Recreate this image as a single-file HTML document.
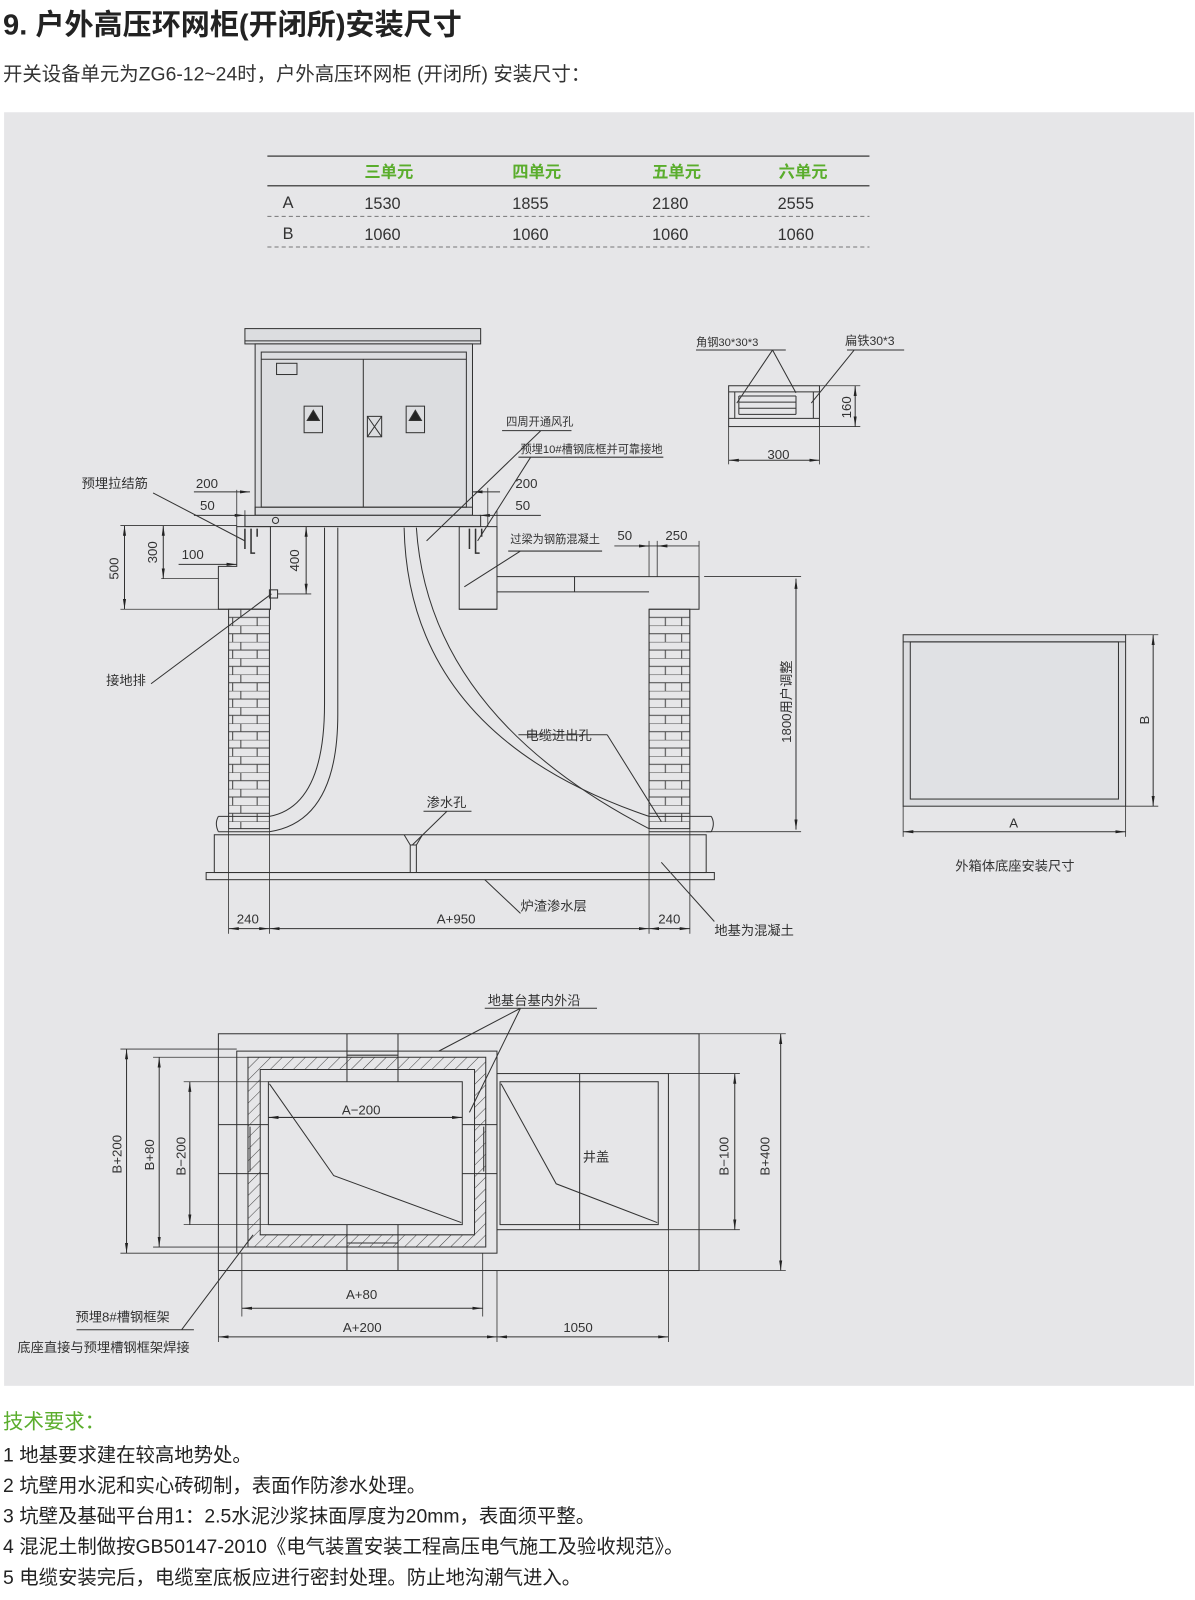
<!DOCTYPE html>
<html><head><meta charset="utf-8"><style>
html,body{margin:0;padding:0;background:#fff;}
svg{display:block;}
text{font-family:"Liberation Sans","Noto Sans CJK SC",sans-serif;fill:#333;}
text.g{fill:#5aad2c;}
text.d{fill:#222;}
</style></head><body>
<svg width="1195" height="1600" viewBox="0 0 1195 1600" xmlns="http://www.w3.org/2000/svg">
<defs>
<pattern id="brick" x="224" y="597" width="40" height="16" patternUnits="userSpaceOnUse">
<rect width="40" height="16" fill="#e6e6e8"/>
<path d="M0 0H40M0 8H40M12 0V8M28 8V16M4 8V16" stroke="#444" stroke-width="1" fill="none"/>
</pattern>
<pattern id="hatch" width="8" height="8" patternUnits="userSpaceOnUse" patternTransform="rotate(45)">
<rect width="8" height="8" fill="#e6e6e8"/><line x1="0" y1="0" x2="0" y2="8" stroke="#444" stroke-width="1"/>
</pattern>
<marker id="ar" markerWidth="10" markerHeight="6" refX="10" refY="3" orient="auto-start-reverse" markerUnits="userSpaceOnUse"><path d="M0 1.5L10 3L0 4.5Z" fill="#222"/></marker>
</defs>
<g transform="scale(1.0205)">
<text x="3" y="34" font-size="28.5" font-weight="bold" class="d">9. 户外高压环网柜(开闭所)安装尺寸</text>
<text x="3" y="79" font-size="19">开关设备单元为ZG6-12~24时，户外高压环网柜 (开闭所) 安装尺寸：</text>

<rect x="4" y="110" width="1166" height="1248" fill="#e6e6e8"/>

<g font-size="16">
<line x1="262" y1="153" x2="852" y2="153" stroke="#555" stroke-width="1.5"/>
<line x1="262" y1="182" x2="852" y2="182" stroke="#555" stroke-width="1.5"/>
<line x1="262" y1="212" x2="852" y2="212" stroke="#777" stroke-dasharray="4,3"/>
<line x1="262" y1="242" x2="852" y2="242" stroke="#777" stroke-dasharray="4,3"/>
<g font-weight="bold"><text x="357" y="174" class="g">三单元</text><text x="502" y="174" class="g">四单元</text><text x="639" y="174" class="g">五单元</text><text x="763" y="174" class="g">六单元</text></g>
<text x="277" y="204">A</text><text x="357" y="205">1530</text><text x="502" y="205">1855</text><text x="639" y="205">2180</text><text x="762" y="205">2555</text>
<text x="277" y="234">B</text><text x="357" y="235">1060</text><text x="502" y="235">1060</text><text x="639" y="235">1060</text><text x="762" y="235">1060</text>
</g>

<g stroke="#333" stroke-width="1" fill="none">
<rect x="240" y="322" width="231" height="15" fill="#dcdde0"/>
<line x1="240" y1="334" x2="471" y2="334"/>
<rect x="250" y="337" width="213" height="168" fill="#dcdde0"/>
<rect x="256" y="345" width="201" height="152" fill="#dcdde0"/>
<line x1="256" y1="352" x2="457" y2="352"/>
<line x1="356" y1="352" x2="356" y2="497"/>
<rect x="271" y="356" width="20" height="11"/>
<rect x="298" y="398" width="18" height="26"/><path d="M307 402l-6 10h12z" fill="#222"/>
<rect x="398" y="398" width="18" height="26"/><path d="M407 402l-6 10h12z" fill="#222"/>
<rect x="360" y="408" width="14" height="20"/><path d="M360 408l14 20M374 408l-14 20"/>
<rect x="250" y="497" width="213" height="8"/>
<rect x="240" y="505" width="231" height="11" fill="#dcdde0"/>
<circle cx="270" cy="510" r="3"/>

<path d="M232 516H265V597H214V555H232Z"/>
<path d="M450 516H487V597H450Z"/>
<path d="M487 565H685V597H636M487 580H636M563 565V580"/>
<line x1="214" y1="597" x2="265" y2="597"/>
<line x1="450" y1="597" x2="487" y2="597"/>
<path d="M240 518v20M246 518v24h4M252 518v8" stroke-width="1.5"/>
<path d="M460 518v20M466 518v24h4M472 518v8" stroke-width="1.5"/>
<rect x="224" y="597" width="40" height="215" fill="url(#brick)"/>
<rect x="636" y="597" width="40" height="215" fill="url(#brick)"/>
<rect x="264" y="578" width="8" height="8"/>
<path d="M214 800H264M214 815H264M214 800q-4 7 0 15"/>
<path d="M636 800H697M636 815H697M697 800q4 7 0 15"/>
<path d="M318 517V690Q318 790 264 800"/>
<path d="M331 517V700Q331 805 264 815"/>
<path d="M396 517Q400 720 636 800"/>
<path d="M408 517Q420 700 636 812"/>
<rect x="210" y="818" width="482" height="37"/>
<rect x="202" y="855" width="498" height="7"/>
<path d="M396 818l6 10h6l6-10M402 828V855M408 828V855"/>
<line x1="224" y1="812" x2="224" y2="915" stroke-width=".8"/>
<line x1="264" y1="812" x2="264" y2="915" stroke-width=".8"/>
<line x1="636" y1="812" x2="636" y2="915" stroke-width=".8"/>
<line x1="676" y1="812" x2="676" y2="915" stroke-width=".8"/>
<line x1="224" y1="910" x2="264" y2="910" marker-start="url(#ar)" marker-end="url(#ar)"/>
<line x1="264" y1="910" x2="636" y2="910" marker-start="url(#ar)" marker-end="url(#ar)"/>
<line x1="636" y1="910" x2="676" y2="910" marker-start="url(#ar)" marker-end="url(#ar)"/>

<line x1="118" y1="515" x2="232" y2="515" stroke-width=".8"/>
<line x1="118" y1="597" x2="214" y2="597" stroke-width=".8"/>
<line x1="122" y1="515" x2="122" y2="597" marker-start="url(#ar)" marker-end="url(#ar)"/>
<line x1="158" y1="567" x2="214" y2="567" stroke-width=".8"/>
<line x1="160" y1="515" x2="160" y2="567" marker-start="url(#ar)" marker-end="url(#ar)"/>
<line x1="175" y1="553" x2="232" y2="553" marker-end="url(#ar)"/>
<line x1="300" y1="516" x2="300" y2="582" marker-start="url(#ar)" marker-end="url(#ar)"/>
<line x1="272" y1="582" x2="305" y2="582" stroke-width=".8"/>
<line x1="190" y1="482" x2="245" y2="482" marker-end="url(#ar)"/>
<line x1="190" y1="505" x2="240" y2="505" marker-end="url(#ar)"/>
<line x1="232" y1="480" x2="232" y2="516" stroke-width=".8"/>
<line x1="240" y1="500" x2="240" y2="516" stroke-width=".8"/>
<line x1="490" y1="482" x2="463" y2="482" marker-end="url(#ar)"/>
<line x1="530" y1="505" x2="470" y2="505" marker-end="url(#ar)"/>
<line x1="478" y1="478" x2="478" y2="516" stroke-width=".8"/>
<line x1="487" y1="500" x2="487" y2="565" stroke-width=".8"/>
<line x1="602" y1="535" x2="685" y2="535" stroke-width=".8"/>
<line x1="630" y1="535" x2="636" y2="535" marker-end="url(#ar)"/>
<line x1="650" y1="535" x2="644" y2="535" marker-end="url(#ar)"/>
<line x1="636" y1="530" x2="636" y2="565" stroke-width=".8"/>
<line x1="644" y1="530" x2="644" y2="565" stroke-width=".8"/>
<line x1="685" y1="530" x2="685" y2="565" stroke-width=".8"/>
<line x1="690" y1="565" x2="785" y2="565" stroke-width=".8"/>
<line x1="692" y1="815" x2="785" y2="815" stroke-width=".8"/>
<line x1="780" y1="567" x2="780" y2="813" marker-start="url(#ar)" marker-end="url(#ar)"/>

<path d="M150 483L240 530"/>
<path d="M148 670L266 582"/>
<path d="M492 422H560M530 422L418 530"/>
<path d="M508 448H650M520 448L468 530"/>
<path d="M498 540H590M510 540L455 575"/>
<path d="M508 720H595M595 720L648 805"/>
<path d="M415 795H462M438 795L404 828"/>
<path d="M510 895L475 862"/>
<path d="M700 903L648 845"/>

<rect x="714" y="378" width="89" height="40"/>
<line x1="714" y1="384" x2="803" y2="384"/>
<line x1="714" y1="410" x2="803" y2="410"/>
<line x1="720" y1="384" x2="720" y2="410"/><line x1="797" y1="384" x2="797" y2="410"/>
<path d="M724 388H780M724 394H780M724 400H780M724 406H780M724 388V406M780 388V406"/>
<path d="M682 343H770M757 343L722 395M757 343L780 385M830 343H886M837 343L795 395"/>
<line x1="714" y1="418" x2="714" y2="455" stroke-width=".8"/><line x1="803" y1="418" x2="803" y2="455" stroke-width=".8"/>
<line x1="714" y1="451" x2="803" y2="451" marker-start="url(#ar)" marker-end="url(#ar)"/>
<line x1="803" y1="378" x2="843" y2="378" stroke-width=".8"/><line x1="803" y1="418" x2="843" y2="418" stroke-width=".8"/>
<line x1="838" y1="378" x2="838" y2="418" marker-start="url(#ar)" marker-end="url(#ar)"/>

<rect x="885" y="622" width="218" height="168" fill="#dcdde0"/>
<rect x="892" y="629" width="204" height="154" fill="#e0e1e4"/>
<line x1="885" y1="629" x2="1103" y2="629"/>
<line x1="1103" y1="622" x2="1135" y2="622" stroke-width=".8"/><line x1="1103" y1="790" x2="1135" y2="790" stroke-width=".8"/>
<line x1="1130" y1="622" x2="1130" y2="790" marker-start="url(#ar)" marker-end="url(#ar)"/>
<line x1="885" y1="790" x2="885" y2="820" stroke-width=".8"/><line x1="1103" y1="790" x2="1103" y2="820" stroke-width=".8"/>
<line x1="885" y1="815" x2="1103" y2="815" marker-start="url(#ar)" marker-end="url(#ar)"/>

<rect x="214" y="1013" width="471" height="232"/>
<rect x="232" y="1030" width="255" height="198"/>
<path d="M243 1036H476V1222H243Z M255 1048V1210H465V1048Z" fill="url(#hatch)" fill-rule="evenodd"/>
<rect x="263" y="1060" width="190" height="140"/>
<path d="M340 1013V1060M390 1013V1060M340 1200V1245M390 1200V1245M340 1034H390M340 1218H390"/>
<path d="M214 1102H263M214 1150H263M453 1102H487M453 1150H487M245 1104V1148M474 1104V1148"/>
<rect x="487" y="1052" width="168" height="153"/>
<rect x="490" y="1060" width="155" height="140"/>
<line x1="568" y1="1052" x2="568" y2="1205"/>
<path d="M264 1062L327 1152L452 1198"/>
<path d="M491 1062L545 1160L644 1198"/>
<line x1="263" y1="1095" x2="453" y2="1095" marker-start="url(#ar)" marker-end="url(#ar)"/>
<path d="M475 988H585M510 988L430 1030M510 988L460 1090"/>
<path d="M118 1028H232M150 1036H243M180 1060H263M118 1228H232M150 1222H243M180 1200H263" stroke-width=".8"/>
<line x1="124" y1="1028" x2="124" y2="1228" marker-start="url(#ar)" marker-end="url(#ar)"/>
<line x1="156" y1="1036" x2="156" y2="1222" marker-start="url(#ar)" marker-end="url(#ar)"/>
<line x1="186" y1="1060" x2="186" y2="1200" marker-start="url(#ar)" marker-end="url(#ar)"/>
<path d="M655 1052H725M655 1205H725M685 1013H770M685 1245H770" stroke-width=".8"/>
<line x1="720" y1="1052" x2="720" y2="1205" marker-start="url(#ar)" marker-end="url(#ar)"/>
<line x1="765" y1="1013" x2="765" y2="1245" marker-start="url(#ar)" marker-end="url(#ar)"/>
<path d="M237 1228V1290M473 1228V1290M214 1245V1315M487 1245V1315M655 1205V1315" stroke-width=".8"/>
<line x1="237" y1="1282" x2="473" y2="1282" marker-start="url(#ar)" marker-end="url(#ar)"/>
<line x1="214" y1="1310" x2="487" y2="1310" marker-start="url(#ar)" marker-end="url(#ar)"/>
<line x1="487" y1="1310" x2="655" y2="1310" marker-start="url(#ar)" marker-end="url(#ar)"/>
<path d="M178 1303L248 1210M190 1303H75"/>
</g>

<g font-size="13">
<text x="80" y="478">预埋拉结筋</text>
<text x="192" y="478">200</text><text x="196" y="500">50</text>
<text x="178" y="548">100</text>
<text x="505" y="478">200</text><text x="505" y="500">50</text>
<text x="605" y="529">50</text><text x="652" y="529">250</text>
<text x="104" y="671">接地排</text>
<text x="515" y="725">电缆进出孔</text>
<text x="418" y="791">渗水孔</text>
<text x="510" y="892">炉渣渗水层</text>
<text x="700" y="916">地基为混凝土</text>
<text x="232" y="905">240</text><text x="428" y="905">A+950</text><text x="645" y="905">240</text>
<text x="752" y="450">300</text>
<text x="936" y="853">外箱体底座安装尺寸</text>
<text x="989" y="811">A</text>
<text x="478" y="985">地基台基内外沿</text>
<text x="335" y="1092">A−200</text>
<text x="571" y="1138">井盖</text>
<text x="339" y="1273">A+80</text>
<text x="336" y="1305">A+200</text>
<text x="552" y="1305">1050</text>
<text x="74" y="1295">预埋8#槽钢框架</text>
<text x="17" y="1325">底座直接与预埋槽钢框架焊接</text>
</g>
<g font-size="11">
<text x="496" y="417">四周开通风孔</text>
<text x="510" y="444">预埋10#槽钢底框并可靠接地</text>
<text x="500" y="532">过梁为钢筋混凝土</text>
<text x="682" y="339">角钢30*30*3</text>
<text x="828" y="338" font-size="12">扁铁30*3</text>
</g>
<g font-size="13">
<text transform="translate(116,568) rotate(-90)">500</text>
<text transform="translate(154,552) rotate(-90)">300</text>
<text transform="translate(293,560) rotate(-90)">400</text>
<text transform="translate(775,728) rotate(-90)">1800用户调整</text>
<text transform="translate(834,410) rotate(-90)">160</text>
<text transform="translate(1126,710) rotate(-90)">B</text>
<text transform="translate(119,1150) rotate(-90)">B+200</text>
<text transform="translate(151,1147) rotate(-90)">B+80</text>
<text transform="translate(182,1152) rotate(-90)">B−200</text>
<text transform="translate(714,1152) rotate(-90)">B−100</text>
<text transform="translate(754,1152) rotate(-90)">B+400</text>
</g>

<text x="3" y="1400" font-size="20" class="g">技术要求：</text>
<g font-size="19">
<text class="d" x="3" y="1432">1  地基要求建在较高地势处。</text>
<text class="d" x="3" y="1462">2  坑壁用水泥和实心砖砌制，表面作防渗水处理。</text>
<text class="d" x="3" y="1492">3  坑壁及基础平台用1：2.5水泥沙浆抹面厚度为20mm，表面须平整。</text>
<text class="d" x="3" y="1522">4  混泥土制做按GB50147-2010《电气装置安装工程高压电气施工及验收规范》。</text>
<text class="d" x="3" y="1552">5  电缆安装完后，电缆室底板应进行密封处理。防止地沟潮气进入。</text>
</g>
</g>
</svg>
</body></html>
